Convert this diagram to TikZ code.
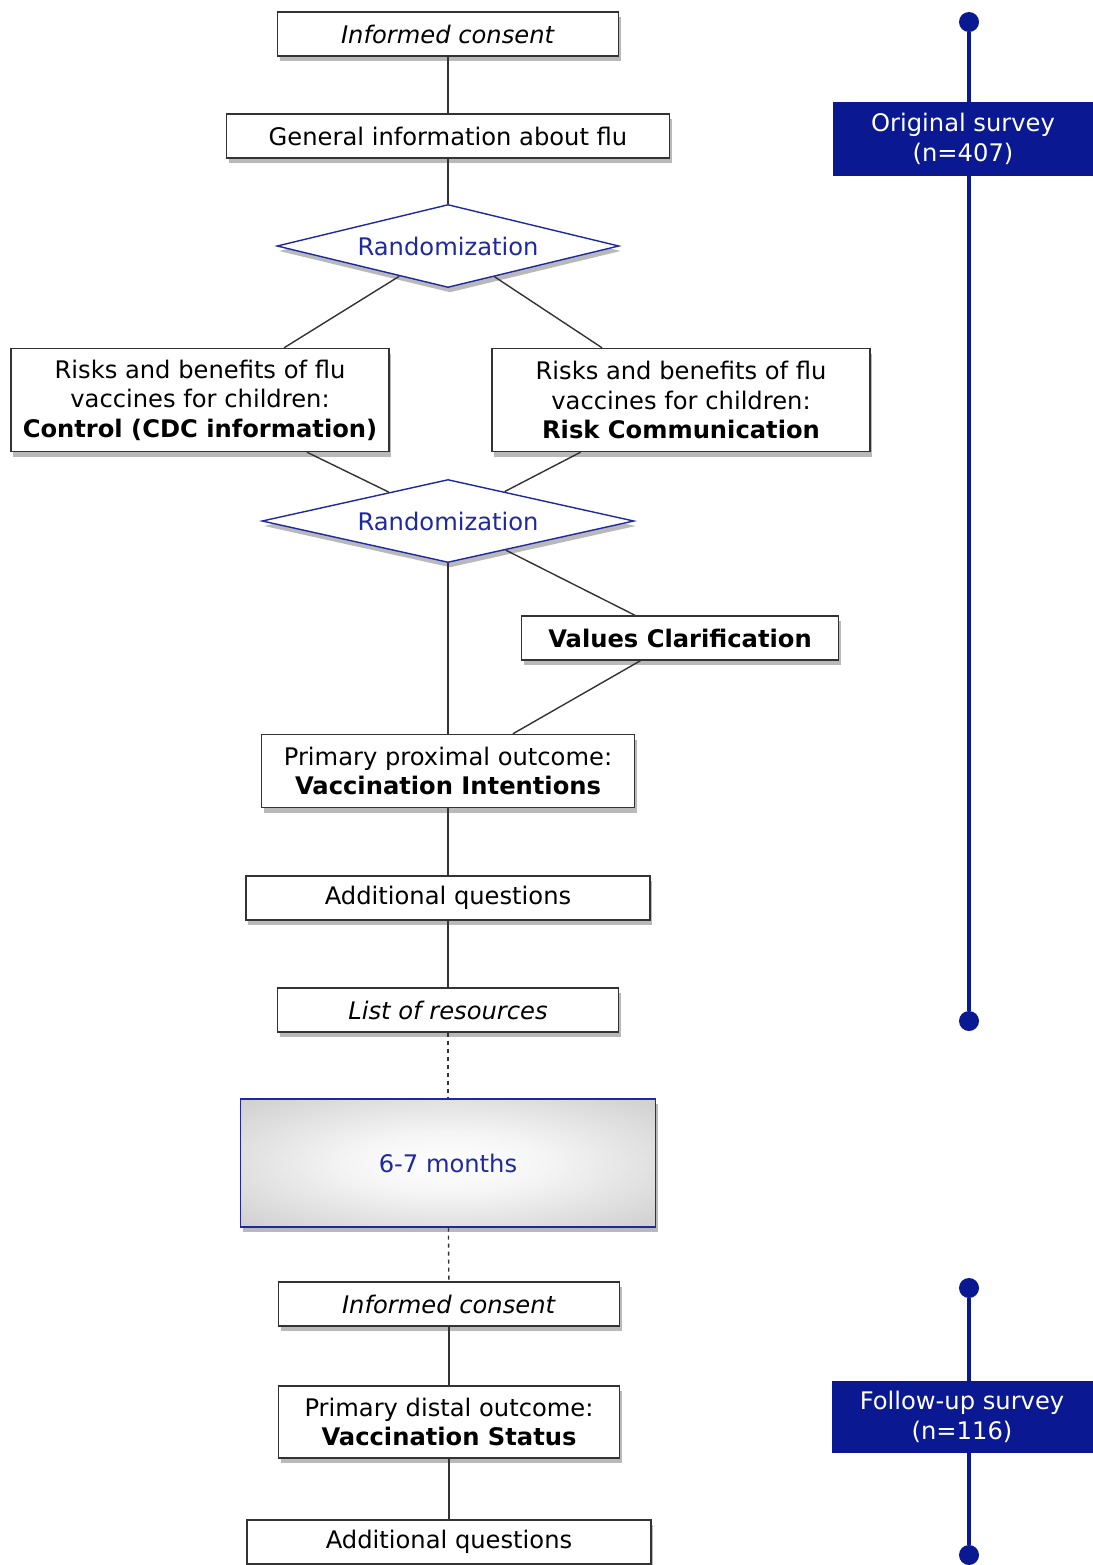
\documentclass[tikz,border=0pt]{standalone}
\usepackage{fontspec}
\setmainfont{DejaVu Sans}
\usetikzlibrary{shapes.geometric,shadows}
\definecolor{navy}{RGB}{10,25,145}
\definecolor{rblue}{RGB}{30,40,160}
\pgfdeclareradialshading{waitshade}{\pgfpoint{0bp}{0bp}}{color(0bp)=(white); color(12bp)=(white!96!black); color(50bp)=(black!28); color(71bp)=(black!36)}

\begin{document}
\begin{tikzpicture}[x=0.5pt,y=-0.5pt,
    font=\fontsize{12.1}{14.75}\selectfont,
    box/.style={draw=black!80, line width=0.7pt, fill=white, align=center, inner sep=0pt,
      drop shadow={opacity=0.55, shadow xshift=1pt, shadow yshift=-2.5pt}},
    rnd/.style={diamond, aspect=4, draw=rblue, line width=0.7pt, fill=white, text=rblue, inner sep=0pt,
      drop shadow={opacity=0.55, shadow xshift=1pt, shadow yshift=-2.5pt}},
    link/.style={black!80, line width=0.7pt},
    wait/.style={link, dash pattern=on 2pt off 2pt},
    survey/.style={fill=navy, text=white, align=center, inner sep=0pt},
    tl/.style={navy, line width=2pt},
    dot/.style={circle, fill=navy, minimum size=10pt, inner sep=0pt}]
    \useasboundingbox (0,0) rectangle (1093,1565);

    % original survey
    \node[box, minimum width=170.5pt, minimum height=22pt] (IC1) at (448,34) {\textit{Informed consent}};
    \node[box, minimum width=221.5pt, minimum height=22pt] (GI) at (448,136) {General information about flu};
    \node[rnd, minimum width=171pt, minimum height=41.5pt] (R1) at (448,246) {Randomization};
    \node[box, minimum width=189pt, minimum height=51.5pt] (RL) at (200,400) {Risks and benefits of flu\\vaccines for children:\\\textbf{Control (CDC information)}};
    \node[box, minimum width=189pt, minimum height=51.5pt] (RR) at (681,400) {Risks and benefits of flu\\vaccines for children:\\\textbf{Risk Communication}};
    \node[rnd, minimum width=186pt, minimum height=41.5pt] (R2) at (448,521) {Randomization};
    \node[box, minimum width=158.5pt, minimum height=22pt] (VC) at (680,638) {\textbf{Values Clarification}};
    \node[box, minimum width=186.5pt, minimum height=36.5pt] (PP) at (448,771) {Primary proximal outcome:\\\textbf{Vaccination Intentions}};
    \node[box, minimum width=202pt, minimum height=22pt] (AQ1) at (448,898) {Additional questions};
    \node[box, minimum width=170.5pt, minimum height=22pt] (LR) at (448,1010) {\textit{List of resources}};

    % gap
    \node[box, draw=rblue, text=rblue, shading=waitshade,
      minimum width=207.5pt, minimum height=64pt] (M) at (448,1163) {6-7 months};

    % follow-up survey
    \node[box, minimum width=170.5pt, minimum height=22pt] (IC2) at (449,1304) {\textit{Informed consent}};
    \node[box, minimum width=170.5pt, minimum height=36pt] (PD) at (449,1422) {Primary distal outcome:\\\textbf{Vaccination Status}};
    \node[box, minimum width=202pt, minimum height=22pt] (AQ2) at (449,1542) {Additional questions};

    \draw[link] (IC1) -- (GI);
    \draw[link] (GI) -- (R1);
    \draw[link] (R1) -- (RL);
    \draw[link] (R1) -- (RR);
    \draw[link] (RL) -- (R2);
    \draw[link] (RR) -- (R2);
    \draw[link] (R2) -- (PP);
    \draw[link] (R2) -- (VC);
    \draw[link] (VC) -- (PP);
    \draw[link] (PP) -- (AQ1);
    \draw[link] (AQ1) -- (LR);
    \draw[wait] (LR) -- (M);
    \draw[wait] (M) -- (IC2);
    \draw[link] (IC2) -- (PD);
    \draw[link] (PD) -- (AQ2);

    % timelines
    \node[dot] (T1) at (969,22) {};
    \node[dot] (T2) at (969,1021) {};
    \draw[tl] (T1) -- (T2);
    \node[survey, minimum width=130.5pt, minimum height=37pt] (OS) at (963,139) {Original survey\\(n=407)};

    \node[dot] (T3) at (969,1288) {};
    \node[dot] (T4) at (969,1555) {};
    \draw[tl] (T3) -- (T4);
    \node[survey, minimum width=130.5pt, minimum height=36pt] (FS) at (962,1417) {Follow-up survey\\(n=116)};
\end{tikzpicture}
\end{document}
